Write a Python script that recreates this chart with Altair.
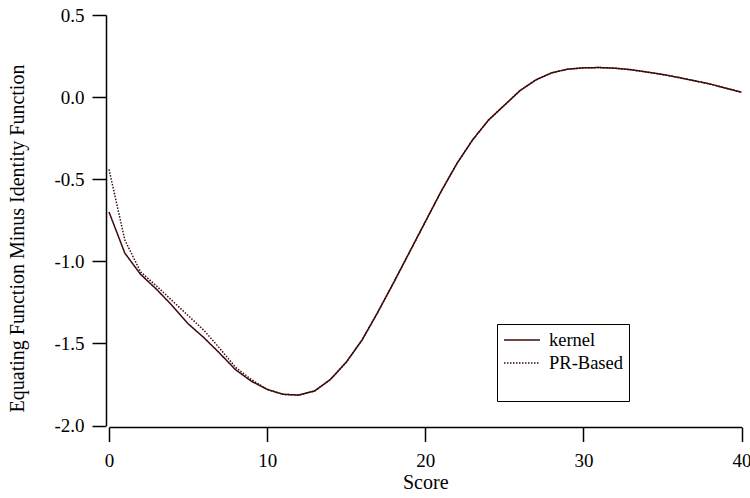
import altair as alt
import pandas as pd

scores = list(range(41))
kernel = [-0.70, -0.95, -1.08, -1.17, -1.27, -1.38, -1.465, -1.56, -1.66, -1.73,
          -1.78, -1.81, -1.815, -1.79, -1.72, -1.615, -1.48, -1.31, -1.13, -0.945,
          -0.76, -0.575, -0.405, -0.26, -0.14, -0.05, 0.04, 0.105, 0.148, 0.17,
          0.178, 0.18, 0.176, 0.167, 0.153, 0.138, 0.12, 0.10, 0.08, 0.055, 0.03]
pr_based = [-0.44, -0.87, -1.065, -1.15, -1.24, -1.33, -1.42, -1.53, -1.645, -1.72,
            -1.78, -1.81, -1.815, -1.79, -1.72, -1.615, -1.48, -1.31, -1.13, -0.945,
            -0.76, -0.575, -0.405, -0.26, -0.14, -0.05, 0.04, 0.105, 0.148, 0.17,
            0.178, 0.18, 0.176, 0.167, 0.153, 0.138, 0.12, 0.10, 0.08, 0.055, 0.03]
series_names = ["kernel", "PR-Based"]
x_ticks = [0, 10, 20, 30, 40]
y_ticks = [-2.0, -1.5, -1.0, -0.5, 0.0, 0.5]

df = pd.DataFrame({
    "Score": scores + scores,
    "value": kernel + pr_based,
    "series": [series_names[0]] * len(scores) + [series_names[1]] * len(scores),
})

FONT = "Liberation Serif"
LINE = "#3e0a0a"

legend = alt.Legend(
    orient="none", legendX=388, legendY=309,
    title=" ", titleOrient="bottom", titleFontSize=18, titlePadding=4,
    symbolType="M-2,0H2", symbolSize=324, symbolStrokeWidth=1.5, symbolOffset=9,
    labelFont=FONT, labelFontSize=18.5, labelColor="black", labelOffset=17,
    strokeColor="black", padding=6, rowPadding=3,
)

chart = alt.Chart(df).mark_line(strokeWidth=1.5).encode(
    x=alt.X("Score:Q", scale=alt.Scale(domain=[0, 40], nice=False),
            axis=alt.Axis(values=x_ticks, title="Score", offset=1.5, tickSize=14.5,
                          labelPadding=10, titlePadding=2, format="d", labelFlush=False)),
    y=alt.Y("value:Q", scale=alt.Scale(domain=[-2.0, 0.5], nice=False, zero=False),
            axis=alt.Axis(values=y_ticks, title="Equating Function Minus Identity Function",
                          offset=3, tickSize=14, labelPadding=8, titlePadding=26, titleY=223,
                          labelExpr="replace(format(datum.value, '.1f'), '\u2212', '-')")),
    color=alt.Color("series:N", scale=alt.Scale(domain=series_names, range=[LINE, LINE]),
                    legend=legend),
    strokeDash=alt.StrokeDash("series:N", scale=alt.Scale(domain=series_names,
                                                          range=[[1, 0], [1.5, 1.5]]),
                              legend=legend),
).properties(
    width=632.5, height=410.5,
    autosize=alt.AutoSizeParams(type="none"),
    padding={"left": 109, "top": 15, "right": 8.5, "bottom": 72.5},
).configure_view(stroke=None).configure_axis(
    grid=False, domainColor="black", domainWidth=1.5, tickColor="black", tickWidth=1.5,
    labelFont=FONT, labelFontSize=19, labelColor="black",
    titleFont=FONT, titleFontSize=20, titleColor="black", titleFontWeight="normal",
)

chart.save("out.html", embed_options={"renderer": "svg", "actions": False})
